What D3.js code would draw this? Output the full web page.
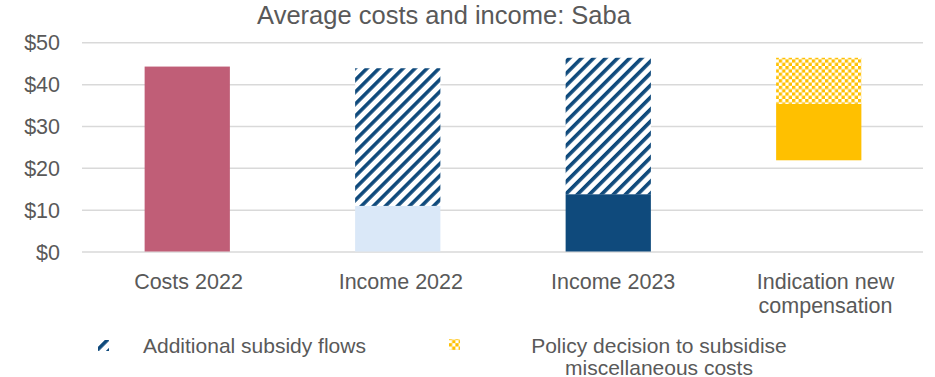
<!DOCTYPE html>
<html>
<head>
<meta charset="utf-8">
<script src="https://cdn.jsdelivr.net/npm/d3@7"></script>
<style>
  html, body { margin: 0; padding: 0; background: #ffffff; }
  svg { display: block; font-family: "Liberation Sans", Arial, sans-serif; }
</style>
</head>
<body>
<svg id="chart" width="935" height="377"></svg>
<script>
// ---- Data -------------------------------------------------------------
const categories = ["Costs 2022", "Income 2022", "Income 2023", "Indication new compensation"];
const categoryLines = [["Costs 2022"], ["Income 2022"], ["Income 2023"], ["Indication new", "compensation"]];

// Stacked segments per category (USD). "offset" is an invisible spacer.
const offsetValues       = [0, 0, 0, 21.8];
const costValues         = [44.2, 0, 0, 0];
const income2022Values   = [0, 10.9, 0, 0];
const income2023Values   = [0, 0, 13.7, 0];
const compensationValues = [0, 0, 0, 13.5];
const subsidyValues      = [0, 32.9, 32.6, 0];
const policyValues       = [0, 0, 0, 11.0];

const yTicks = [0, 10, 20, 30, 40, 50];
const titleText = "Average costs and income: Saba";
const legendItems = [
  { key: "subsidy", lines: ["Additional subsidy flows"] },
  { key: "policy",  lines: ["Policy decision to subsidise", "miscellaneous costs"] }
];

// ---- Setup ------------------------------------------------------------
const svg = d3.select("#chart");
const plot = { left: 82, right: 924, top: 42.3, bottom: 251.5 };
const textColor = "#595959";

const keys = ["offset", "costs", "income2022", "income2023", "compensation", "subsidy", "policy"];
const seriesByKey = {
  offset: offsetValues, costs: costValues, income2022: income2022Values,
  income2023: income2023Values, compensation: compensationValues,
  subsidy: subsidyValues, policy: policyValues
};
const rows = categories.map((c, i) => {
  const r = { category: c };
  keys.forEach(k => r[k] = seriesByKey[k][i]);
  return r;
});

const x = d3.scaleBand().domain(categories).range([plot.left, plot.right]).paddingInner(0.595).paddingOuter(0.2975);
const xLabel = d3.scalePoint().domain(categories).range([188, 825]);
const y = d3.scaleLinear().domain([0, 50]).range([plot.bottom, plot.top]);

// ---- Patterns ---------------------------------------------------------
const defs = svg.append("defs");
const hatch = defs.append("pattern")
  .attr("id", "hatch").attr("patternUnits", "userSpaceOnUse")
  .attr("width", 8.5).attr("height", 8.5)
  .attr("patternTransform", "rotate(45)");
hatch.append("rect").attr("width", 8.5).attr("height", 8.5).attr("fill", "#ffffff");
hatch.append("rect").attr("x", 0).attr("y", 0).attr("width", 3.6).attr("height", 8.5).attr("fill", "#0F4A7C");

const checker = defs.append("pattern")
  .attr("id", "checker").attr("patternUnits", "userSpaceOnUse")
  .attr("width", 6.6).attr("height", 6.6);
checker.append("rect").attr("width", 6.6).attr("height", 6.6).attr("fill", "#ffffff");
checker.append("rect").attr("x", 0).attr("y", 0).attr("width", 3.3).attr("height", 3.3).attr("fill", "#FFC000");
checker.append("rect").attr("x", 3.3).attr("y", 3.3).attr("width", 3.3).attr("height", 3.3).attr("fill", "#FFC000");

const fills = {
  offset: "none",
  costs: "#C05E77",
  income2022: "#DAE8F8",
  income2023: "#0F4A7C",
  compensation: "#FFC000",
  subsidy: "url(#hatch)",
  policy: "url(#checker)"
};

// ---- Title ------------------------------------------------------------
svg.append("text")
  .attr("x", 444).attr("y", 24)
  .attr("text-anchor", "middle")
  .attr("fill", textColor)
  .style("font-size", "25.5px")
  .text(titleText);

// ---- Y axis / gridlines -----------------------------------------------
const yAxis = d3.axisLeft(y).tickValues(yTicks).tickFormat(d => "$" + d)
  .tickSize(-(923 - plot.left)).tickPadding(22);
const gy = svg.append("g").attr("transform", `translate(${plot.left},0)`).call(yAxis);
gy.select(".domain").remove();
gy.selectAll(".tick line").attr("stroke", "#D9D9D9").attr("stroke-width", 1.5);
gy.selectAll(".tick text").attr("fill", textColor).style("font-size", "21.5px")
  .style("font-family", "'Liberation Sans', Arial, sans-serif").attr("dy", "0.35em");

// ---- Bars -------------------------------------------------------------
const stacked = d3.stack().keys(keys)(rows);
svg.append("g").selectAll("g")
  .data(stacked.filter(s => s.key !== "offset"))
  .join("g")
  .attr("fill", s => fills[s.key])
  .selectAll("rect")
  .data(s => s.filter(d => d[1] - d[0] > 0))
  .join("rect")
  .attr("x", d => x(d.data.category))
  .attr("width", x.bandwidth())
  .attr("y", d => y(d[1]))
  .attr("height", d => y(d[0]) - y(d[1]));

// ---- X axis labels ----------------------------------------------------
const xAxis = d3.axisBottom(xLabel).tickSize(0).tickPadding(0).tickFormat(() => "");
const gx = svg.append("g").attr("transform", `translate(0,${plot.bottom})`).call(xAxis);
gx.select(".domain").remove();
gx.selectAll(".tick text").remove();
gx.selectAll(".tick").each(function(d, i) {
  const t = d3.select(this).append("text")
    .attr("text-anchor", "middle")
    .attr("fill", textColor)
    .style("font-size", "21.5px")
    .style("font-family", "'Liberation Sans', Arial, sans-serif");
  categoryLines[i].forEach((line, j) => {
    t.append("tspan").attr("x", 0).attr("y", 37.5 + j * 24).text(line);
  });
});

// ---- Legend -----------------------------------------------------------
const legendPos = [
  { sx: 98, sy: 340, tx: 143, anchor: "start" },
  { sx: 449, sy: 339, tx: 659, anchor: "middle" }
];
legendItems.forEach((item, i) => {
  const p = legendPos[i];
  svg.append("rect")
    .attr("x", p.sx).attr("y", p.sy).attr("width", 11).attr("height", 11)
    .attr("fill", fills[item.key]);
  const t = svg.append("text")
    .attr("text-anchor", p.anchor)
    .attr("fill", textColor)
    .style("font-size", "21px");
  item.lines.forEach((line, j) => {
    t.append("tspan").attr("x", p.tx).attr("y", 352.5 + j * 22).text(line);
  });
});
</script>
</body>
</html>
